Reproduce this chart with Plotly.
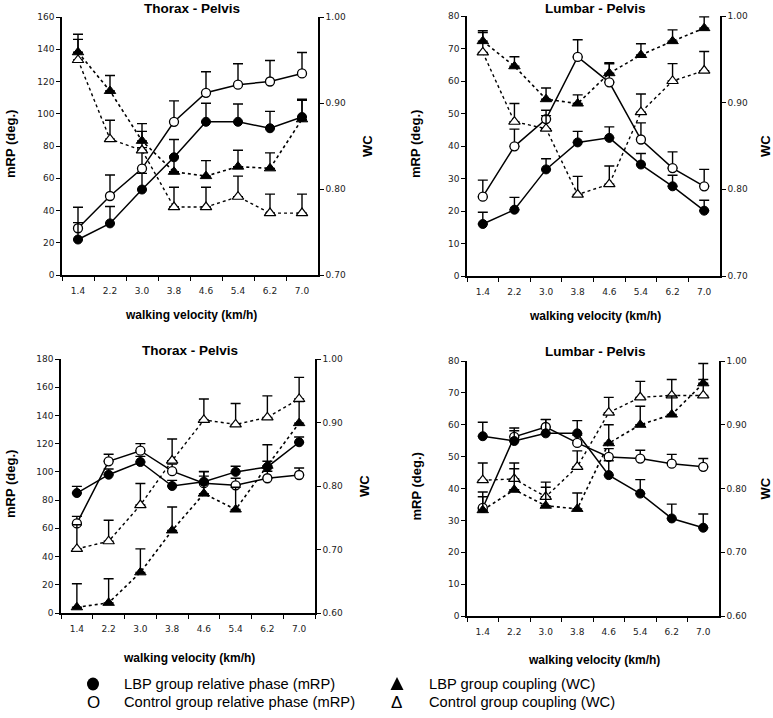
import plotly.graph_objects as go

W, H = 773, 718

velocity = ["1.4", "2.2", "3.0", "3.8", "4.6", "5.4", "6.2", "7.0"]
panel_titles = ["Thorax - Pelvis", "Lumbar - Pelvis", "Thorax - Pelvis", "Lumbar - Pelvis"]

# ---- Panel 1: Thorax - Pelvis (top) ----
p1_lbp_mrp = [22, 32, 53, 73, 95, 95, 91, 98]
p1_lbp_mrp_sd = [10.5, 10.5, 10, 11, 11.5, 11, 10.5, 11]
p1_ctl_mrp = [29, 49, 66, 95, 113, 118, 120, 125]
p1_ctl_mrp_sd = [13, 13, 13, 13, 13, 13, 13, 13]
p1_lbp_wc = [0.959, 0.914, 0.856, 0.820, 0.815, 0.826, 0.824, 0.881]
p1_lbp_wc_sd = [0.021, 0.018, 0.020, 0.018, 0.018, 0.019, 0.018, 0.022]
p1_ctl_wc = [0.950, 0.858, 0.845, 0.779, 0.779, 0.791, 0.772, 0.772]
p1_ctl_wc_sd = [0.024, 0.022, 0.022, 0.023, 0.023, 0.024, 0.022, 0.022]

# ---- Panel 2: Lumbar - Pelvis (top) ----
p2_lbp_mrp = [16.0, 20.4, 32.8, 41.1, 42.5, 34.3, 27.6, 20.1]
p2_lbp_mrp_sd = [3.6, 3.8, 3.3, 3.4, 3.4, 3.4, 3.4, 3.2]
p2_ctl_mrp = [24.4, 39.9, 48.3, 67.4, 59.6, 42.0, 33.2, 27.6]
p2_ctl_mrp_sd = [5.1, 5.3, 2.7, 5.3, 5.7, 5.1, 5.0, 5.2]
p2_lbp_wc = [0.971, 0.942, 0.904, 0.899, 0.934, 0.955, 0.971, 0.986]
p2_lbp_wc_sd = [0.012, 0.011, 0.013, 0.010, 0.012, 0.013, 0.013, 0.013]
p2_ctl_wc = [0.958, 0.878, 0.870, 0.794, 0.806, 0.889, 0.925, 0.937]
p2_ctl_wc_sd = [0.023, 0.021, 0.015, 0.021, 0.021, 0.021, 0.020, 0.022]

# ---- Panel 3: Thorax - Pelvis (bottom) ----
p3_lbp_mrp = [85, 98, 107, 90, 93, 100, 103.5, 121]
p3_lbp_mrp_sd = [4.7, 4, 4, 4, 4, 4, 4, 3.7]
p3_ctl_mrp = [63.5, 107.5, 115, 100.5, 92, 90.5, 95.5, 97.8]
p3_ctl_mrp_sd = [5, 5, 5, 5, 8, 5, 5, 5]
p3_lbp_wc = [0.609, 0.616, 0.664, 0.730, 0.788, 0.763, 0.832, 0.899]
p3_lbp_wc_sd = [0.037, 0.038, 0.037, 0.037, 0.035, 0.035, 0.033, 0.034]
p3_ctl_wc = [0.701, 0.713, 0.770, 0.840, 0.904, 0.897, 0.908, 0.937]
p3_ctl_wc_sd = [0.038, 0.033, 0.034, 0.034, 0.033, 0.033, 0.034, 0.034]

# ---- Panel 4: Lumbar - Pelvis (bottom) ----
p4_lbp_mrp = [56.4, 54.9, 57.3, 57.3, 44.2, 38.4, 30.6, 27.7]
p4_lbp_mrp_sd = [4.4, 3.2, 4.3, 4.0, 4.5, 4.4, 4.5, 4.3]
p4_ctl_mrp = [33.9, 56.2, 59.3, 54.3, 49.9, 49.4, 47.8, 46.8]
p4_ctl_mrp_sd = [5, 2.8, 2.4, 2.5, 2.6, 2.6, 2.9, 2.6]
p4_lbp_wc = [0.766, 0.798, 0.773, 0.768, 0.871, 0.900, 0.916, 0.965]
p4_lbp_wc_sd = [0.021, 0.033, 0.029, 0.025, 0.029, 0.029, 0.029, 0.031]
p4_ctl_wc = [0.813, 0.815, 0.787, 0.834, 0.919, 0.943, 0.946, 0.946]
p4_ctl_wc_sd = [0.027, 0.025, 0.023, 0.025, 0.024, 0.025, 0.025, 0.025]

mrp_ranges = [[0, 160], [0, 80], [0, 180], [0, 80]]
mrp_dticks = [20, 10, 20, 10]
wc_ranges = [[0.70, 1.00], [0.70, 1.00], [0.60, 1.00], [0.60, 1.00]]

legend_labels = [
    "LBP group relative phase (mRP)",
    "Control group relative phase (mRP)",
    "LBP group coupling (WC)",
    "Control group coupling (WC)",
]

panels = [
    (p1_lbp_mrp, p1_lbp_mrp_sd, p1_ctl_mrp, p1_ctl_mrp_sd, p1_lbp_wc, p1_lbp_wc_sd, p1_ctl_wc, p1_ctl_wc_sd),
    (p2_lbp_mrp, p2_lbp_mrp_sd, p2_ctl_mrp, p2_ctl_mrp_sd, p2_lbp_wc, p2_lbp_wc_sd, p2_ctl_wc, p2_ctl_wc_sd),
    (p3_lbp_mrp, p3_lbp_mrp_sd, p3_ctl_mrp, p3_ctl_mrp_sd, p3_lbp_wc, p3_lbp_wc_sd, p3_ctl_wc, p3_ctl_wc_sd),
    (p4_lbp_mrp, p4_lbp_mrp_sd, p4_ctl_mrp, p4_ctl_mrp_sd, p4_lbp_wc, p4_lbp_wc_sd, p4_ctl_wc, p4_ctl_wc_sd),
]

# plot-area boxes in pixels: (left, right, top, bottom)
boxes = [(62, 318, 17, 275), (467, 720, 16, 276), (61, 315, 359, 613), (467, 719, 361, 616)]
xtitle_offsets = [40, 40, 45, 44]


def px(x):
    return x / W


def py(y):
    return 1 - y / H


TICK_FONT = dict(family="DejaVu Sans", size=9, color="#222")
BOLD = "Liberation Sans"

fig = go.Figure()


def err(sd):
    return dict(type="data", array=sd, arrayminus=[0] * len(sd), symmetric=False,
                color="black", thickness=1.4, width=5)


layout = {}
annotations = []
shapes = []
for i, (data, box) in enumerate(zip(panels, boxes)):
    lm, lsd, cm, csd, lw, lwsd, cw, cwsd = data
    n = i + 1
    xname = "x" if n == 1 else f"x{n}"
    yl = 2 * n - 1
    yr = 2 * n
    ylname = "y" if yl == 1 else f"y{yl}"
    yrname = f"y{yr}"

    # WC traces (dotted)
    fig.add_trace(go.Scatter(x=velocity, y=cw, xaxis=xname, yaxis=yrname, mode="lines+markers",
                             line=dict(color="black", width=1.4, dash="dot"),
                             marker=dict(symbol="triangle-up", size=10, color="white",
                                         line=dict(color="black", width=1.2)),
                             error_y=err(cwsd), showlegend=False))
    fig.add_trace(go.Scatter(x=velocity, y=lw, xaxis=xname, yaxis=yrname, mode="lines+markers",
                             line=dict(color="black", width=1.6, dash="dot"),
                             marker=dict(symbol="triangle-up", size=10, color="black",
                                         line=dict(color="black", width=1)),
                             error_y=err(lwsd), showlegend=False))
    # mRP traces (solid)
    fig.add_trace(go.Scatter(x=velocity, y=cm, xaxis=xname, yaxis=ylname, mode="lines+markers",
                             line=dict(color="black", width=1.5),
                             marker=dict(symbol="circle", size=9, color="white",
                                         line=dict(color="black", width=1.3)),
                             error_y=err(csd), showlegend=False))
    fig.add_trace(go.Scatter(x=velocity, y=lm, xaxis=xname, yaxis=ylname, mode="lines+markers",
                             line=dict(color="black", width=1.5),
                             marker=dict(symbol="circle", size=9, color="black",
                                         line=dict(color="black", width=1)),
                             error_y=err(lsd), showlegend=False))

    l, r, t, b = box
    axkey = "xaxis" if n == 1 else f"xaxis{n}"
    ylkey = "yaxis" if yl == 1 else f"yaxis{yl}"
    yrkey = f"yaxis{yr}"
    common = dict(showline=True, linecolor="black", linewidth=1.6, ticks="outside", ticklen=4,
                  tickwidth=1.4, tickcolor="black", showgrid=False, zeroline=False,
                  tickfont=TICK_FONT, automargin=False)
    layout[axkey] = dict(domain=[px(l), px(r)], anchor=ylname, type="category",
                         categoryorder="array", categoryarray=velocity, range=[-0.5, 7.5],
                         tickson="boundaries", ticklabelstandoff=6, **common)
    layout[ylkey] = dict(domain=[py(b), py(t)], anchor=xname, range=mrp_ranges[i],
                         dtick=mrp_dticks[i], tick0=0, **common)
    layout[yrkey] = dict(overlaying=ylname, side="right", anchor=xname, range=wc_ranges[i],
                         dtick=0.1, tick0=0.6, tickformat=".2f", **common)

    cx = (l + r) / 2
    title_y = 8 if i < 2 else t - 9
    annotations.append(dict(text=f"<b>{panel_titles[i]}</b>", x=px(cx + 2), y=py(title_y),
                            xref="paper", yref="paper", showarrow=False, xanchor="center",
                            yanchor="middle", font=dict(family=BOLD, size=13.5, color="black")))
    annotations.append(dict(text="<b>walking velocity (km/h)</b>", x=px(cx + 1),
                            y=py(b + xtitle_offsets[i]),
                            xref="paper", yref="paper", showarrow=False, xanchor="center",
                            yanchor="middle", font=dict(family=BOLD, size=12, color="black")))
    annotations.append(dict(text="<b>mRP (deg.)</b>", x=px(l - 51), y=py((t + b) / 2 - 2),
                            xref="paper", yref="paper", showarrow=False, textangle=-90,
                            xanchor="center", yanchor="middle",
                            font=dict(family=BOLD, size=13, color="black")))
    annotations.append(dict(text="<b>WC</b>", x=px(min(r + 49, 765)), y=py((t + b) / 2),
                            xref="paper", yref="paper", showarrow=False, textangle=-90,
                            xanchor="center", yanchor="middle",
                            font=dict(family=BOLD, size=13, color="black")))

# legend (symbols as shapes / glyphs, labels as annotations)
leg_font = dict(family="Liberation Sans", size=14.7, color="black")
row1, row2 = 684, 702
col1_sym, col1_txt = 93, 122
col2_sym, col2_txt = 397, 427

# filled circle
shapes.append(dict(type="circle", xref="paper", yref="paper",
                   x0=px(col1_sym - 6), x1=px(col1_sym + 6), y0=py(row1 + 6.5), y1=py(row1 - 6.5),
                   fillcolor="black", line=dict(color="black", width=0)))
# filled triangle
shapes.append(dict(type="path", xref="paper", yref="paper",
                   path=f"M {px(col2_sym - 6.5)},{py(row1 + 6)} L {px(col2_sym + 6.5)},{py(row1 + 6)} "
                        f"L {px(col2_sym)},{py(row1 - 7)} Z",
                   fillcolor="black", line=dict(color="black", width=0)))
# open glyphs
for sym, sx, sy in [("O", col1_sym, row2), ("Δ", col2_sym, row2)]:
    annotations.append(dict(text=sym, x=px(sx), y=py(sy), xref="paper", yref="paper",
                            showarrow=False, xanchor="center", yanchor="middle",
                            font=dict(family="Liberation Sans", size=17, color="black")))
for label, tx, sy in [(legend_labels[0], col1_txt, row1), (legend_labels[1], col1_txt, row2),
                      (legend_labels[2], col2_txt, row1), (legend_labels[3], col2_txt, row2)]:
    annotations.append(dict(text=label, x=px(tx), y=py(sy), xref="paper", yref="paper",
                            showarrow=False, xanchor="left", yanchor="middle", font=leg_font))

fig.update_layout(
    width=W, height=H, template="none",
    margin=dict(l=0, r=0, t=0, b=0),
    paper_bgcolor="white", plot_bgcolor="rgba(0,0,0,0)",
    showlegend=False,
    font=dict(family="Liberation Sans", color="black"),
    annotations=annotations,
    shapes=shapes,
    **layout,
)

fig.write_html("out.html", config={"displayModeBar": False},
               post_script="document.body.style.margin='0';document.body.style.overflow='hidden';")
